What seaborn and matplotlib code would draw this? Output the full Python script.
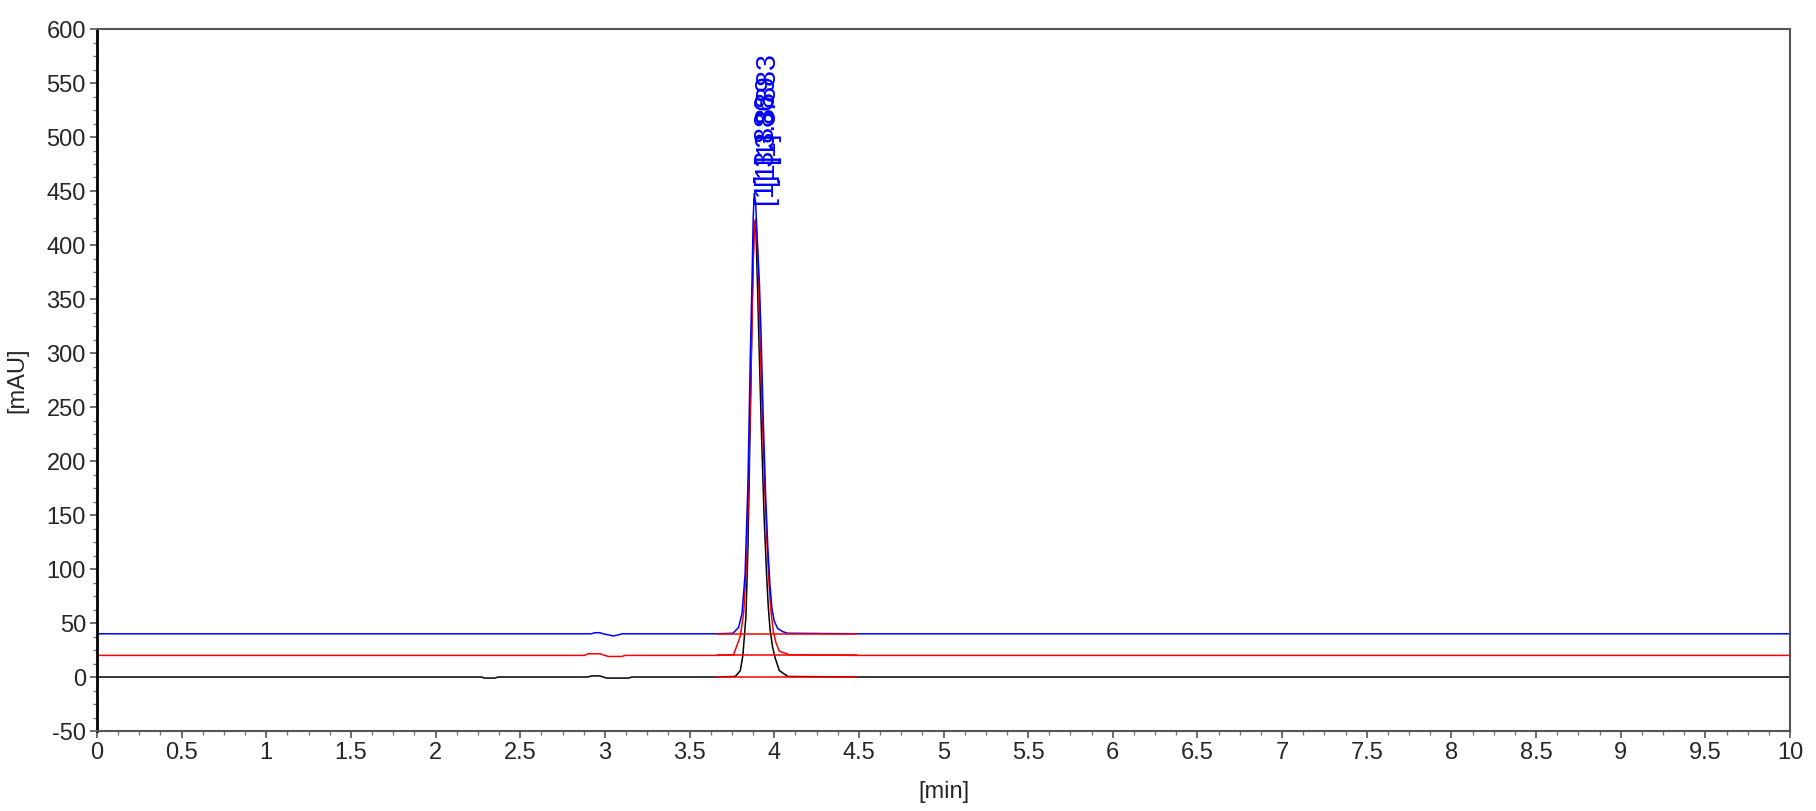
import matplotlib
matplotlib.use("Agg")
import matplotlib.pyplot as plt
from matplotlib.ticker import AutoMinorLocator
import seaborn as sns
import pandas as pd

# ---------------- data ----------------
black_t = [0.0, 2.27, 2.29, 2.35, 2.37, 2.90, 2.92, 2.97, 2.99, 3.01, 3.14, 3.16,
           3.66, 3.77, 3.80, 3.815, 3.833, 3.845, 3.86, 3.872, 3.88, 3.886, 3.893,
           3.90, 3.91, 3.925, 3.94, 3.955, 3.965, 3.975, 3.99, 4.005, 4.03, 4.08, 4.5, 10.0]
black_v = [0, 0, -1, -1, 0, 0, 1, 1, 0, -1, -1, 0,
           0, 0.5, 6, 20, 56, 120, 250, 360, 410, 422, 410,
           370, 310, 225, 150, 95, 65, 45, 28, 18, 6, 0.5, 0, 0]

red_t = [0.0, 2.88, 2.90, 2.97, 3.00, 3.02, 3.10, 3.12,
         3.66, 3.76, 3.80, 3.82, 3.838, 3.85, 3.865, 3.877, 3.884, 3.89, 3.897,
         3.905, 3.915, 3.93, 3.945, 3.96, 3.97, 3.98, 3.995, 4.01, 4.03, 4.09, 4.5, 10.0]
red_v = [20, 20, 21.5, 21.5, 20, 19, 19, 20,
         20, 20.5, 38, 60, 110, 190, 300, 390, 418, 424, 412,
         380, 320, 240, 170, 115, 85, 62, 42, 32, 24, 20.5, 20, 20]

blue_t = [0.0, 2.92, 2.94, 2.97, 2.99, 3.02, 3.05, 3.08, 3.10,
          3.66, 3.757, 3.79, 3.81, 3.828, 3.845, 3.858, 3.869, 3.876, 3.882, 3.89,
          3.90, 3.912, 3.922, 3.935, 3.95, 3.963, 3.975, 3.987, 4.00, 4.02, 4.05, 4.08, 4.5, 10.0]
blue_v = [40, 40, 41, 41, 40, 39, 38, 39, 40,
          40, 40.5, 46, 59, 95, 180, 290, 367, 425, 448, 440,
          405, 367, 320, 240, 165, 118, 85, 63, 52, 45, 42, 40.5, 40, 40]

# integration baselines (drawn in red)
base_start = [3.66, 3.66, 3.66]
base_end = [4.49, 4.49, 4.49]
base_level = [0, 20, 40]

# peak labels
label_texts = ["[1] 3.886", "[1] 3.889", "[1] 3.883"]
label_x = [3.955, 3.962, 3.970]
label_y = [436, 454, 474]

x_ticks = [0, 0.5, 1, 1.5, 2, 2.5, 3, 3.5, 4, 4.5, 5, 5.5, 6, 6.5, 7, 7.5, 8, 8.5, 9, 9.5, 10]
x_tick_labels = ["0", "0.5", "1", "1.5", "2", "2.5", "3", "3.5", "4", "4.5", "5", "5.5",
                 "6", "6.5", "7", "7.5", "8", "8.5", "9", "9.5", "10"]
y_ticks = [-50, 0, 50, 100, 150, 200, 250, 300, 350, 400, 450, 500, 550, 600]
y_tick_labels = ["-50", "0", "50", "100", "150", "200", "250", "300", "350", "400",
                 "450", "500", "550", "600"]

# ---------------- plot ----------------
sns.set_theme(style="white")
plt.rcParams['font.family'] = ['Liberation Sans', 'DejaVu Sans']

fig = plt.figure(figsize=(18.16, 8.11), dpi=100)
ax = fig.add_axes([97/1816, 1 - 731/811, (1790 - 97)/1816, (731 - 29)/811])

df_black = pd.DataFrame({"t": black_t, "v": black_v})
df_red = pd.DataFrame({"t": red_t, "v": red_v})
df_blue = pd.DataFrame({"t": blue_t, "v": blue_v})

sns.lineplot(data=df_black, x="t", y="v", ax=ax, color="black", lw=1.1, sort=False, estimator=None)
sns.lineplot(data=df_red, x="t", y="v", ax=ax, color="#ff0000", lw=1.1, sort=False, estimator=None)
sns.lineplot(data=df_blue, x="t", y="v", ax=ax, color="#0000ff", lw=1.1, sort=False, estimator=None)

for s, e, lv in zip(base_start, base_end, base_level):
    dfb = pd.DataFrame({"t": [s, e], "v": [lv, lv]})
    sns.lineplot(data=dfb, x="t", y="v", ax=ax, color="#ff0000", lw=1.1, estimator=None)

for txt, lx, ly in zip(label_texts, label_x, label_y):
    ax.text(lx, ly, txt, rotation=90, ha="center", va="bottom", color="#0000ff", fontsize=20.5)

ax.set_xlim(0, 10)
ax.set_ylim(-50, 600)
ax.set_xticks(x_ticks)
ax.set_xticklabels(x_tick_labels)
ax.set_yticks(y_ticks)
ax.set_yticklabels(y_tick_labels)
ax.xaxis.set_minor_locator(AutoMinorLocator(4))
ax.yaxis.set_minor_locator(AutoMinorLocator(4))
ax.tick_params(axis="both", which="major", direction="out", length=5, width=1.2,
               color="#555555", labelsize=17, pad=3, bottom=True, left=True)
ax.tick_params(axis="both", which="minor", direction="out", length=3, width=1.0,
               color="#777777", bottom=True, left=True)

ax.set_xlabel("[min]", fontsize=17, labelpad=12)
ax.set_ylabel("[mAU]", fontsize=17, labelpad=13)

for side in ["top", "right", "bottom"]:
    ax.spines[side].set_visible(True)
    ax.spines[side].set_color("#555555")
    ax.spines[side].set_linewidth(1.5)
ax.spines["left"].set_color("black")
ax.spines["left"].set_linewidth(2.0)
ax.grid(False)

fig.savefig("out.png", dpi=100)
